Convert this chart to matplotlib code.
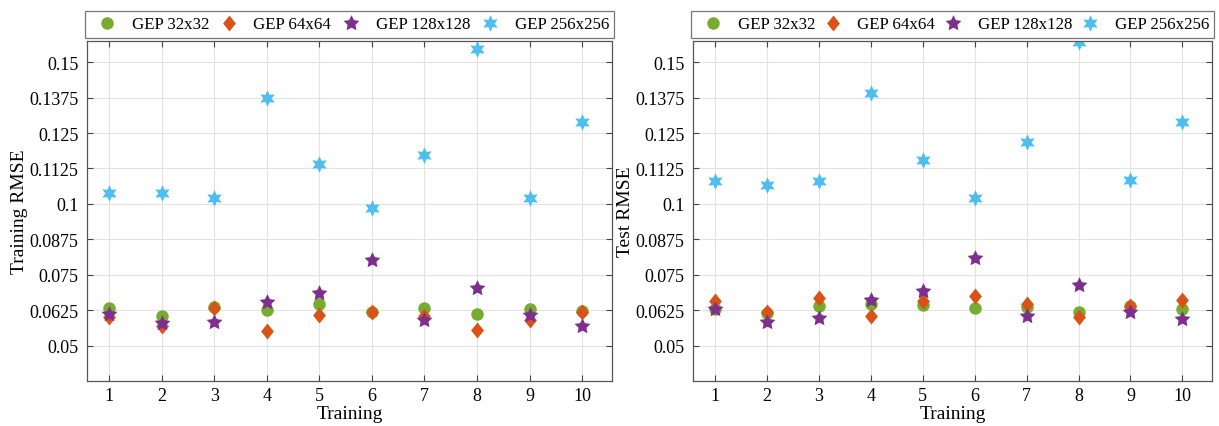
import matplotlib.pyplot as plt
import numpy as np
from matplotlib.path import Path

plt.rcParams['font.family'] = ['Liberation Serif', 'DejaVu Serif']

runs = np.arange(1, 11)
labels = ['GEP 32x32', 'GEP 64x64', 'GEP 128x128', 'GEP 256x256']

# training RMSE per run
train_32 = [0.0631, 0.0603, 0.0636, 0.0624, 0.0648, 0.0619, 0.0633, 0.0613, 0.0629, 0.0622]
train_64 = [0.0602, 0.0569, 0.0633, 0.0550, 0.0607, 0.0617, 0.0606, 0.0556, 0.0592, 0.0617]
train_128 = [0.0612, 0.0578, 0.0584, 0.0655, 0.0684, 0.0803, 0.0590, 0.0702, 0.0607, 0.0569]
train_256 = [0.1040, 0.1038, 0.1020, 0.1372, 0.1141, 0.0985, 0.1171, 0.1548, 0.1020, 0.1290]

# test RMSE per run
test_32 = [0.0629, 0.0615, 0.0640, 0.0647, 0.0644, 0.0634, 0.0636, 0.0619, 0.0640, 0.0629]
test_64 = [0.0659, 0.0618, 0.0667, 0.0604, 0.0659, 0.0674, 0.0648, 0.0601, 0.0639, 0.0662]
test_128 = [0.0630, 0.0584, 0.0598, 0.0660, 0.0694, 0.0808, 0.0606, 0.0714, 0.0617, 0.0593]
test_256 = [0.1082, 0.1065, 0.1082, 0.1391, 0.1155, 0.1020, 0.1217, 0.1573, 0.1083, 0.1288]

yticks = [0.05, 0.0625, 0.075, 0.0875, 0.1, 0.1125, 0.125, 0.1375, 0.15]
ytick_labels = ['0.05', '0.0625', '0.075', '0.0875', '0.1', '0.1125', '0.125', '0.1375', '0.15']

# wider diamond, like MATLAB's
diamond = Path([(0, 1), (0.8, 0), (0, -1), (-0.8, 0), (0, 1)],
               [Path.MOVETO, Path.LINETO, Path.LINETO, Path.LINETO, Path.CLOSEPOLY])

colors = ['#77AC30', '#D95319', '#7E2F8E', '#4DBEEE']
markers = ['o', diamond, (5, 1, 0), (6, 1, 0)]
sizes = [9, 11.5, 12, 12]

fig = plt.figure(figsize=(12.19, 4.27), dpi=100)
ax1 = fig.add_axes([0.0714, 0.1054, 0.4307, 0.7963])
ax2 = fig.add_axes([0.5685, 0.1054, 0.4258, 0.7963])


def draw(ax, series, ylabel):
    for vals, c, m, s, lab in zip(series, colors, markers, sizes, labels):
        ax.plot(runs, vals, linestyle='none', marker=m, color=c, markersize=s,
                markeredgecolor='none', label=lab)
    ax.set_xlim(0.58, 10.57)
    ax.set_ylim(0.0375, 0.1575)
    ax.set_xticks(runs)
    ax.set_yticks(yticks)
    ax.set_yticklabels(ytick_labels)
    ax.grid(True, color='#e3e3e3', linewidth=0.8)
    ax.set_axisbelow(True)
    ax.tick_params(direction='in', top=True, right=True, labelsize=13,
                   length=4, color='#444444', pad=6)
    ax.tick_params(axis='x', pad=4)
    for sp in ax.spines.values():
        sp.set_color('#555555')
        sp.set_linewidth(0.9)
    ax.set_xlabel('Training', fontsize=14, labelpad=1)
    ax.set_ylabel(ylabel, fontsize=14, labelpad=1)
    leg = ax.legend(loc='lower left', bbox_to_anchor=(-0.004, 1.01, 1.008, 0.075),
                    mode='expand', ncol=4, frameon=True, fancybox=False,
                    fontsize=12.2, borderaxespad=0, handlelength=2.0,
                    handletextpad=0.45, borderpad=0.3, columnspacing=0.4)
    leg.get_frame().set_edgecolor('#555555')
    leg.get_frame().set_linewidth(0.9)


draw(ax1, [train_32, train_64, train_128, train_256], 'Training RMSE')
draw(ax2, [test_32, test_64, test_128, test_256], 'Test RMSE')

fig.savefig('out.png', dpi=100)
